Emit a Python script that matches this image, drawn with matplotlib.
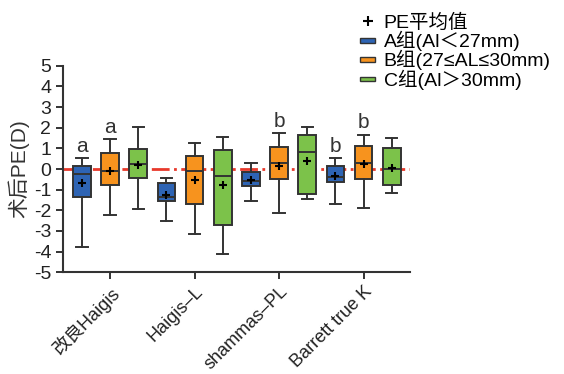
import numpy as np
import matplotlib
matplotlib.use("Agg")
import matplotlib.pyplot as plt
from matplotlib.patches import Patch, Rectangle
from matplotlib.lines import Line2D
from matplotlib.legend_handler import HandlerPatch

plt.rcParams['font.family'] = ['Liberation Sans', 'Noto Sans CJK SC', 'DejaVu Sans']
plt.rcParams['axes.unicode_minus'] = False

methods = ["改良Haigis", "Haigis\u2013L", "shammas\u2013PL", "Barrett true K"]
groups = ["A组(Al＜27mm)", "B组(27≤AL≤30mm)", "C组(Al＞30mm)"]
colors = ["#2e64b4", "#f7931e", "#7cc24a"]

# per box, order: method x group (A, B, C)
whislo = [-3.76, -2.23, -1.95, -2.50, -3.16, -4.11, -1.57, -2.11, -1.45, -1.69, -1.87, -1.15]
q1 = [-1.37, -0.77, -0.45, -1.53, -1.71, -2.69, -0.84, -0.50, -1.21, -0.61, -0.47, -0.76]
med = [-0.24, -0.08, 0.23, -1.34, -0.08, -0.35, -0.56, 0.27, 0.82, -0.37, 0.31, -0.02]
q3 = [0.15, 0.76, 0.97, -0.69, 0.63, 0.92, -0.13, 1.08, 1.66, 0.13, 1.11, 1.03]
whishi = [0.52, 1.44, 2.02, -0.42, 1.24, 1.56, 0.31, 1.74, 2.05, 0.52, 1.66, 1.48]
means = [-0.66, -0.11, 0.19, -1.26, -0.53, -0.77, -0.55, 0.16, 0.40, -0.34, 0.23, 0.06]
letters = ["a", "a", "", "", "", "", "", "b", "", "b", "b", ""]

stats = []
for i in range(len(med)):
    stats.append(dict(whislo=whislo[i], q1=q1[i], med=med[i], q3=q3[i],
                      whishi=whishi[i], mean=means[i], fliers=[]))

fig = plt.figure(figsize=(5.64, 3.74), dpi=100)
ax = fig.add_axes([0.1117, 0.272, 0.6153, 0.552])

pos = np.arange(1, len(med) + 1)
edge = "#333333"
bp = ax.bxp(stats, positions=pos, widths=0.63, patch_artist=True, showmeans=True,
            boxprops=dict(edgecolor=edge, linewidth=1.4),
            medianprops=dict(color=edge, linewidth=1.4),
            whiskerprops=dict(color=edge, linewidth=1.4),
            capprops=dict(color=edge, linewidth=1.4),
            capwidths=0.4,
            meanprops=dict(marker="+", markeredgecolor="black", markersize=6, markeredgewidth=1.5))
for i, b in enumerate(bp['boxes']):
    b.set_facecolor(colors[i % 3])

ax.axhline(0, color="#e8392b", linestyle="-.", linewidth=2, zorder=0)

for i, t in enumerate(letters):
    if t:
        ax.text(pos[i], whishi[i] + 0.12, t, ha="center", va="bottom", fontsize=15, color="#333333")

ax.set_xlim(0.33, 12.65)
ax.set_ylim(-5, 5)
ax.set_yticks(np.arange(-5, 6, 1))
ax.set_xticks(pos[1::3])
ax.set_xticklabels(methods, rotation=45, ha="right", rotation_mode="anchor", fontsize=13)
ax.tick_params(axis="y", labelsize=14, length=5, width=1.4, color=edge, labelcolor="#222222")
ax.tick_params(axis="x", length=5, width=1.4, color=edge, labelcolor="#222222", pad=3)
ax.spines[['top', 'right']].set_visible(False)
for s in ['left', 'bottom']:
    ax.spines[s].set_linewidth(1.5)
    ax.spines[s].set_color(edge)

ax.set_ylabel("术后PE(D)", fontsize=15, color="#333333", labelpad=3,
              family=['Liberation Sans', 'Noto Sans CJK SC'])


def flat_box(legend, orig_handle, xdescent, ydescent, width, height, fontsize):
    h = 3.5
    return Rectangle((-xdescent, -ydescent + height / 2 - h / 2), width, h)


handles = [Line2D([], [], linestyle="none", marker="+", markeredgecolor="black",
                  markersize=7, markeredgewidth=1.5)]
handles += [Patch(facecolor=c, edgecolor=edge, linewidth=1) for c in colors]
fig.legend(handles, ["PE平均值"] + groups, loc="upper left", bbox_to_anchor=(0.615, 1.0),
           frameon=False, fontsize=14, handlelength=0.75,
           handletextpad=0.45, labelspacing=-0.05, borderpad=0.2,
           handler_map={Patch: HandlerPatch(patch_func=flat_box)})

fig.savefig("out.png", dpi=100)
